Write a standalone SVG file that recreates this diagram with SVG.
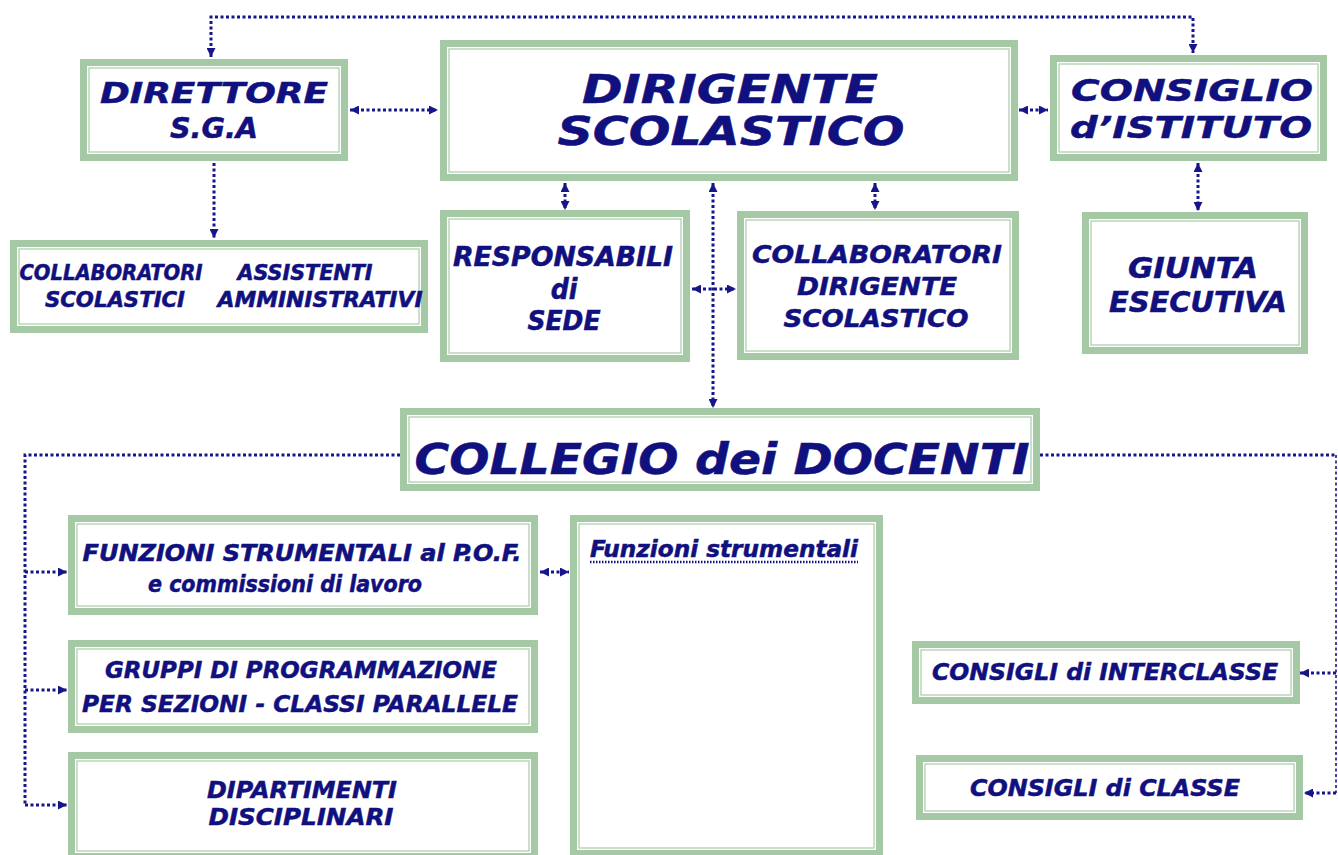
<svg xmlns="http://www.w3.org/2000/svg" width="1338" height="855" viewBox="0 0 1338 855">
<defs>
<style>
.band{fill:#fff;stroke:#a4c9a4;stroke-width:7}
.inner{fill:none;stroke:#aed0ae;stroke-width:1.3}
.t{font-family:"DejaVu Sans",Verdana,sans-serif;font-weight:bold;font-style:italic;fill:#10107e;stroke:#10107e;stroke-width:0.5;text-anchor:middle}
.n{font-family:"DejaVu Sans Condensed","DejaVu Sans",Tahoma,sans-serif;font-stretch:condensed}
.c{stroke:#16168a;stroke-width:3;stroke-dasharray:3 2.5;fill:none}
.cl{stroke:#16168a;stroke-width:1.6;stroke-dasharray:3 2.5;fill:none}
</style>
<marker id="ah" viewBox="0 0 10 10" refX="10" refY="5" markerWidth="9" markerHeight="9" markerUnits="userSpaceOnUse" orient="auto-start-reverse">
<path d="M0,0 L10,5 L0,10 z" fill="#16168a"/>
</marker>
</defs>
<rect width="1338" height="855" fill="#fff"/>

<g id="connectors">
<path class="c" d="M211,57 V17 H1193 V53" marker-start="url(#ah)" marker-end="url(#ah)"/>
<line class="c" x1="350" y1="110" x2="438" y2="110" marker-start="url(#ah)" marker-end="url(#ah)"/>
<line class="c" x1="1019" y1="110" x2="1048" y2="110" marker-start="url(#ah)" marker-end="url(#ah)"/>
<line class="c" x1="214" y1="163" x2="214" y2="238" marker-end="url(#ah)"/>
<line class="c" x1="565" y1="183" x2="565" y2="210" marker-start="url(#ah)" marker-end="url(#ah)"/>
<line class="c" x1="713" y1="183" x2="713" y2="408" marker-start="url(#ah)" marker-end="url(#ah)"/>
<line class="c" x1="875" y1="183" x2="875" y2="210" marker-start="url(#ah)" marker-end="url(#ah)"/>
<line class="c" x1="692" y1="289" x2="736" y2="289" marker-start="url(#ah)" marker-end="url(#ah)"/>
<line class="c" x1="1198" y1="163" x2="1198" y2="211" marker-start="url(#ah)" marker-end="url(#ah)"/>
<path class="c" d="M400,455 H25 V805"/>
<line class="c" x1="25" y1="572" x2="67" y2="572" marker-end="url(#ah)"/>
<line class="c" x1="25" y1="690" x2="67" y2="690" marker-end="url(#ah)"/>
<line class="c" x1="25" y1="805" x2="67" y2="805" marker-end="url(#ah)"/>
<line class="c" x1="1040" y1="455" x2="1336" y2="455"/>
<line class="cl" x1="1336" y1="455" x2="1336" y2="793"/>
<line class="c" x1="1336" y1="673" x2="1300" y2="673" marker-end="url(#ah)"/>
<line class="c" x1="1336" y1="793" x2="1304" y2="793" marker-end="url(#ah)"/>
<line class="c" x1="540" y1="572" x2="569" y2="572" marker-start="url(#ah)" marker-end="url(#ah)"/>
</g>

<g id="dsga">
<rect class="band" x="83.5" y="62.5" width="261" height="95"/>
<rect class="inner" x="89" y="68" width="250" height="84"/>
<text class="t" x="214" y="103" font-size="28" textLength="228" lengthAdjust="spacingAndGlyphs">DIRETTORE</text>
<text class="t" x="214" y="138" font-size="28" textLength="88" lengthAdjust="spacingAndGlyphs">S.G.A</text>
</g>

<g id="dirigente">
<rect class="band" x="443.5" y="43.5" width="571" height="134"/>
<rect class="inner" x="449" y="49" width="560" height="123"/>
<text class="t" x="730" y="103" font-size="39" textLength="296" lengthAdjust="spacingAndGlyphs">DIRIGENTE</text>
<text class="t" x="731" y="145" font-size="39" textLength="347" lengthAdjust="spacingAndGlyphs">SCOLASTICO</text>
</g>

<g id="consiglio">
<rect class="band" x="1053.5" y="58.5" width="270" height="99"/>
<rect class="inner" x="1059" y="64" width="259" height="88"/>
<text class="t" x="1192" y="101" font-size="31" textLength="242" lengthAdjust="spacingAndGlyphs">CONSIGLIO</text>
<text class="t" x="1191" y="138" font-size="31" textLength="242" lengthAdjust="spacingAndGlyphs">d’ISTITUTO</text>
</g>

<g id="collaboratori-scolastici">
<rect class="band" x="13.5" y="243.5" width="411" height="86"/>
<rect class="inner" x="19" y="249" width="400" height="75"/>
<text class="t n" x="111" y="280" font-size="21" textLength="183" lengthAdjust="spacingAndGlyphs">COLLABORATORI</text>
<text class="t n" x="115" y="307" font-size="21" textLength="140" lengthAdjust="spacingAndGlyphs">SCOLASTICI</text>
<text class="t n" x="305" y="280" font-size="21" textLength="135" lengthAdjust="spacingAndGlyphs">ASSISTENTI</text>
<text class="t n" x="320" y="307" font-size="21" textLength="205" lengthAdjust="spacingAndGlyphs">AMMINISTRATIVI</text>
</g>

<g id="responsabili">
<rect class="band" x="443.5" y="213.5" width="243" height="145"/>
<rect class="inner" x="449" y="219" width="232" height="134"/>
<text class="t n" x="563" y="266" font-size="26" textLength="220" lengthAdjust="spacingAndGlyphs">RESPONSABILI</text>
<text class="t n" x="564" y="299" font-size="28">di</text>
<text class="t n" x="564" y="330" font-size="26" textLength="73" lengthAdjust="spacingAndGlyphs">SEDE</text>
</g>

<g id="collaboratori-dirigente">
<rect class="band" x="740.5" y="214.5" width="275" height="142"/>
<rect class="inner" x="746" y="220" width="264" height="131"/>
<text class="t" x="877" y="263" font-size="24" textLength="250" lengthAdjust="spacingAndGlyphs">COLLABORATORI</text>
<text class="t" x="877" y="295" font-size="24" textLength="160" lengthAdjust="spacingAndGlyphs">DIRIGENTE</text>
<text class="t" x="876" y="327" font-size="24" textLength="185" lengthAdjust="spacingAndGlyphs">SCOLASTICO</text>
</g>

<g id="giunta">
<rect class="band" x="1085.5" y="215.5" width="219" height="135"/>
<rect class="inner" x="1091" y="221" width="208" height="124"/>
<text class="t n" x="1193" y="278" font-size="29" textLength="130" lengthAdjust="spacingAndGlyphs">GIUNTA</text>
<text class="t n" x="1198" y="312" font-size="29" textLength="178" lengthAdjust="spacingAndGlyphs">ESECUTIVA</text>
</g>

<g id="collegio">
<rect class="band" x="403.5" y="411.5" width="633" height="76"/>
<rect class="inner" x="409" y="417" width="622" height="65"/>
<text class="t" x="722" y="474" font-size="42" textLength="615" lengthAdjust="spacingAndGlyphs">COLLEGIO dei DOCENTI</text>
</g>

<g id="funzioni-pof">
<rect class="band" x="71.5" y="518.5" width="463" height="93"/>
<rect class="inner" x="77" y="524" width="452" height="82"/>
<text class="t n" x="302" y="561" font-size="23" textLength="439" lengthAdjust="spacingAndGlyphs">FUNZIONI STRUMENTALI al P.O.F.</text>
<text class="t n" x="285" y="592" font-size="23" textLength="274" lengthAdjust="spacingAndGlyphs">e commissioni di lavoro</text>
</g>

<g id="funzioni-strumentali">
<rect class="band" x="573.5" y="518.5" width="306" height="335"/>
<rect class="inner" x="579" y="524" width="295" height="324"/>
<text class="t n" x="724" y="557" font-size="23" textLength="268" lengthAdjust="spacingAndGlyphs">Funzioni strumentali</text>
<line x1="590" y1="562" x2="858" y2="562" stroke="#10107e" stroke-width="2.5" stroke-dasharray="1.5 1.5"/>
</g>

<g id="gruppi">
<rect class="band" x="71.5" y="643.5" width="463" height="86"/>
<rect class="inner" x="77" y="649" width="452" height="75"/>
<text class="t" x="301" y="678" font-size="23" textLength="392" lengthAdjust="spacingAndGlyphs">GRUPPI DI PROGRAMMAZIONE</text>
<text class="t" x="300" y="712" font-size="23" textLength="436" lengthAdjust="spacingAndGlyphs">PER SEZIONI - CLASSI PARALLELE</text>
</g>

<g id="dipartimenti">
<rect class="band" x="71.5" y="755.5" width="463" height="101"/>
<rect class="inner" x="77" y="761" width="452" height="90"/>
<text class="t" x="302" y="798" font-size="23" textLength="190" lengthAdjust="spacingAndGlyphs">DIPARTIMENTI</text>
<text class="t" x="301" y="825" font-size="23" textLength="185" lengthAdjust="spacingAndGlyphs">DISCIPLINARI</text>
</g>

<g id="interclasse">
<rect class="band" x="915.5" y="644.5" width="381" height="56"/>
<rect class="inner" x="921" y="650" width="370" height="45"/>
<text class="t" x="1105" y="680" font-size="23" textLength="346" lengthAdjust="spacingAndGlyphs">CONSIGLI di INTERCLASSE</text>
</g>

<g id="classe">
<rect class="band" x="919.5" y="758.5" width="380" height="58"/>
<rect class="inner" x="925" y="764" width="369" height="47"/>
<text class="t" x="1105" y="796" font-size="23" textLength="270" lengthAdjust="spacingAndGlyphs">CONSIGLI di CLASSE</text>
</g>
</svg>
